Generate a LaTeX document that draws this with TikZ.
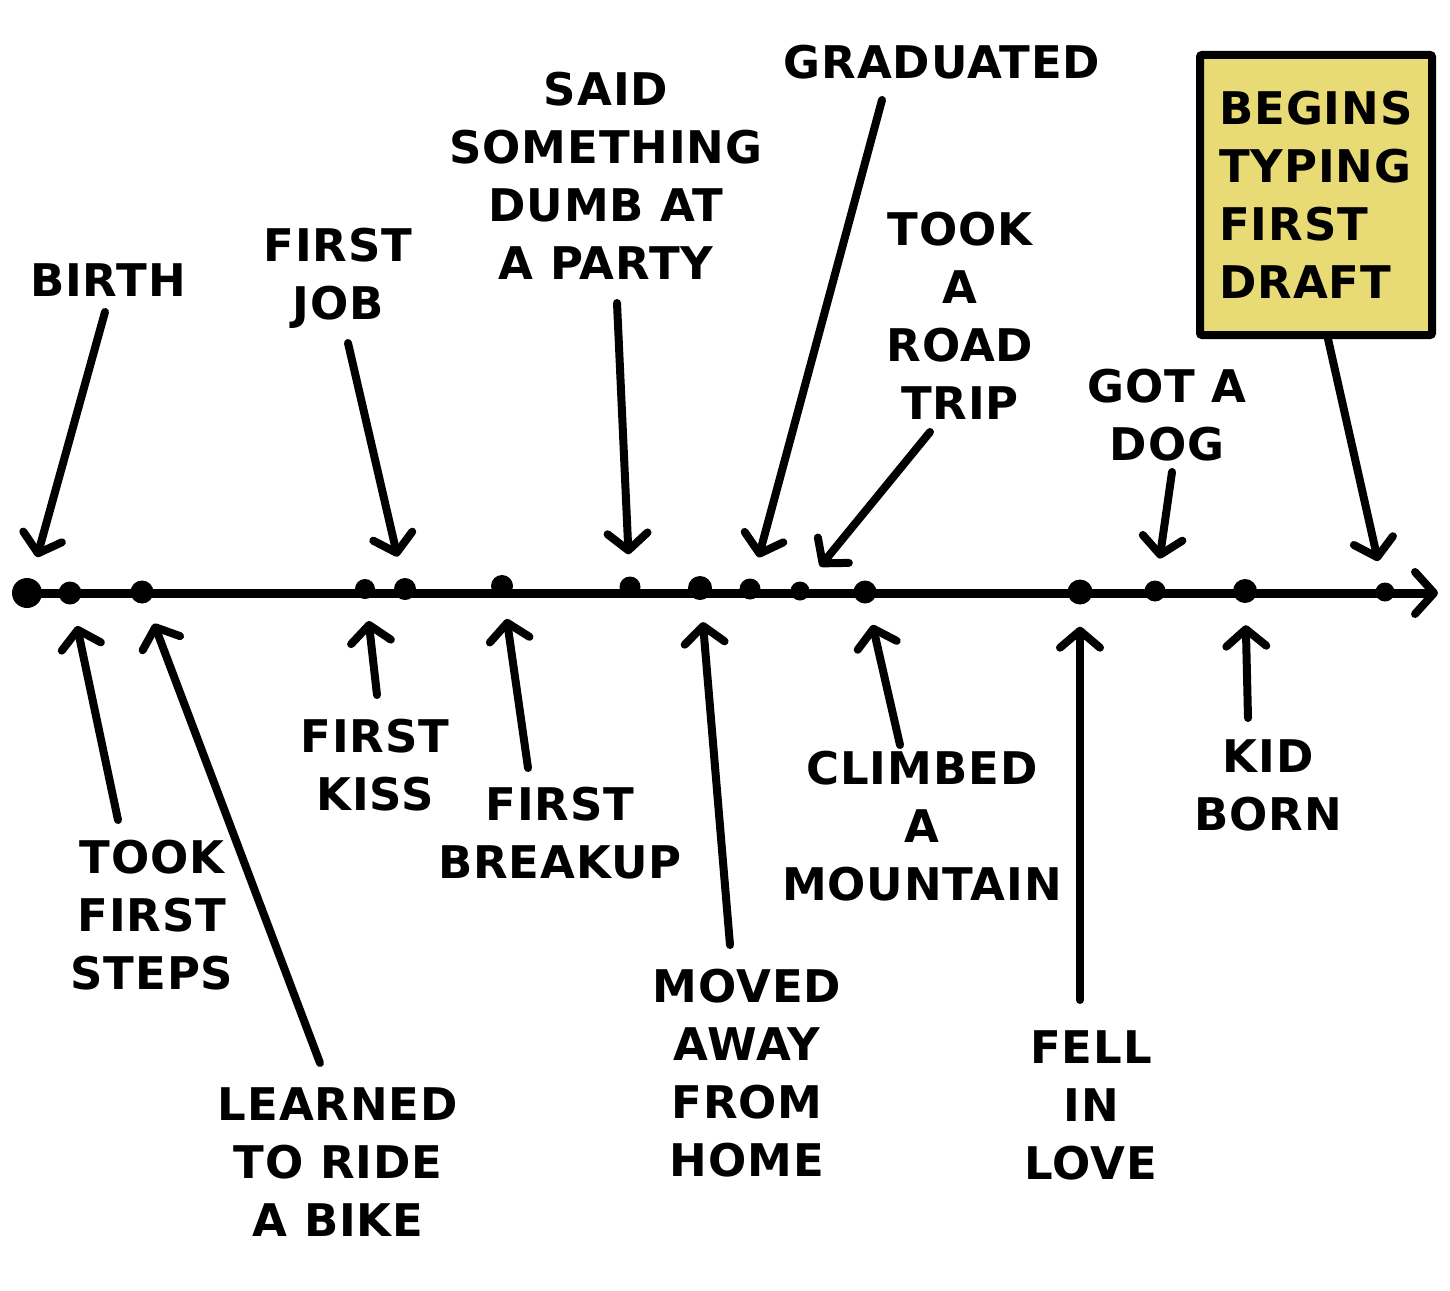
\documentclass[tikz,border=0pt]{standalone}
\usepackage{fontspec}
\setmainfont[LetterSpace=2]{DejaVu Sans}
\usetikzlibrary{arrows.meta}
\definecolor{note}{RGB}{232,219,118}
\begin{document}
\begin{tikzpicture}[x=1pt,y=-1pt,
  lbl/.style={font=\fontsize{45}{58}\selectfont\bfseries, align=center, inner sep=0pt},
  dotb/.style={circle, fill=black, inner sep=0pt, minimum size=#1},
  tip/.style={-{Straight Barb[length=17pt,width=40pt,line width=8pt,round]}},
  arr/.style={line width=8pt, line cap=round, tip, shorten >=22pt},
  axis/.style={line width=9pt, line cap=round, -{Straight Barb[length=19pt,width=42pt,line width=8pt,round]}},
  notebox/.style={draw=black, line width=8pt, fill=note, rounded corners=2pt,
    minimum width=232pt, minimum height=280pt, align=left, inner sep=0pt,
    font=\fontsize{45}{58}\selectfont\bfseries},
]
\useasboundingbox (0,0) rectangle (1450,1290);
\fill[white] (0,0) rectangle (1450,1290);

% timeline dots
\node[dotb=30pt] (d1)  at (27,593)  {};
\node[dotb=23pt] (d2)  at (70,593)  {};
\node[dotb=23pt] (d3)  at (142,592) {};
\node[dotb=20pt] (d4)  at (365,589) {};
\node[dotb=22pt] (d5)  at (405,589) {};
\node[dotb=22pt] (d6)  at (502,586) {};
\node[dotb=21pt] (d7)  at (630,587) {};
\node[dotb=24pt] (d8)  at (700,588) {};
\node[dotb=21pt] (d9)  at (750,589) {};
\node[dotb=19pt] (d10) at (800,591) {};
\node[dotb=23pt] (d11) at (865,592) {};
\node[dotb=25pt] (d12) at (1080,592) {};
\node[dotb=21pt] (d13) at (1155,591) {};
\node[dotb=24pt] (d14) at (1245,591) {};
\node[dotb=19pt] (d15) at (1385,592) {};
\coordinate (tend) at (1438,593);
\draw[axis] (d1.center) -- (tend);

% labels above
\node[lbl] (birth) at (108,280) {BIRTH};
\node[lbl] (job)   at (338,278) {FIRST\\JOB};
\node[lbl] (dumb)  at (606,176) {SAID\\SOMETHING\\DUMB AT\\A PARTY};
\node[lbl] (grad)  at (942,62)  {GRADUATED};
\node[lbl] (road)  at (960,316) {TOOK\\A\\ROAD\\TRIP};
\node[lbl] (dog)   at (1167,415) {GOT A\\DOG};
\node[notebox] (draft) at (1316,195) {BEGINS\\TYPING\\FIRST\\DRAFT};

% labels below
\node[lbl] (steps)  at (152,915)  {TOOK\\FIRST\\STEPS};
\node[lbl] (bike)   at (338,1162) {LEARNED\\TO RIDE\\A BIKE};
\node[lbl] (kiss)   at (375,765)  {FIRST\\KISS};
\node[lbl] (breakup) at (560,833) {FIRST\\BREAKUP};
\node[lbl] (moved)  at (747,1073) {MOVED\\AWAY\\FROM\\HOME};
\node[lbl] (mount)  at (922,826)  {CLIMBED\\A\\MOUNTAIN};
\node[lbl] (love)   at (1091,1105) {FELL\\IN\\LOVE};
\node[lbl] (kid)    at (1268,785) {KID\\BORN};

% arrow tails
\coordinate (tbirth) at (105,312);
\coordinate (tjob)   at (348,343);
\coordinate (tdumb)  at (617,303);
\coordinate (tgrad)  at (882,100);
\coordinate (troad)  at (930,432);
\coordinate (tdog)   at (1172,472);
\coordinate (tdraft) at ([xshift=12pt]draft.south);
\coordinate (tsteps) at (118,820);
\coordinate (tbike)  at (320,1063);
\coordinate (tkiss)  at (377,695);
\coordinate (tbreak) at (528,768);
\coordinate (tmoved) at (730,945);
\coordinate (tmount) at (900,745);
\coordinate (tlove)  at (1080,1000);
\coordinate (tkid)   at (1248,718);

\draw[arr] (tbirth) -- (d1);
\draw[arr] (tjob) -- (d5);
\draw[arr] (tdumb) -- (d7);
\draw[arr] (tgrad) -- (d9);
\draw[arr] (troad) -- (d10);
\draw[arr] (tdog) -- (d13);
\draw[arr] (tdraft) -- (d15);
\draw[arr] (tsteps) -- (d2);
\draw[arr] (tbike) -- (d3);
\draw[arr] (tkiss) -- (d4);
\draw[arr] (tbreak) -- (d6);
\draw[arr] (tmoved) -- (d8);
\draw[arr] (tmount) -- (d11);
\draw[arr] (tlove) -- (d12);
\draw[arr] (tkid) -- (d14);
\end{tikzpicture}
\end{document}
